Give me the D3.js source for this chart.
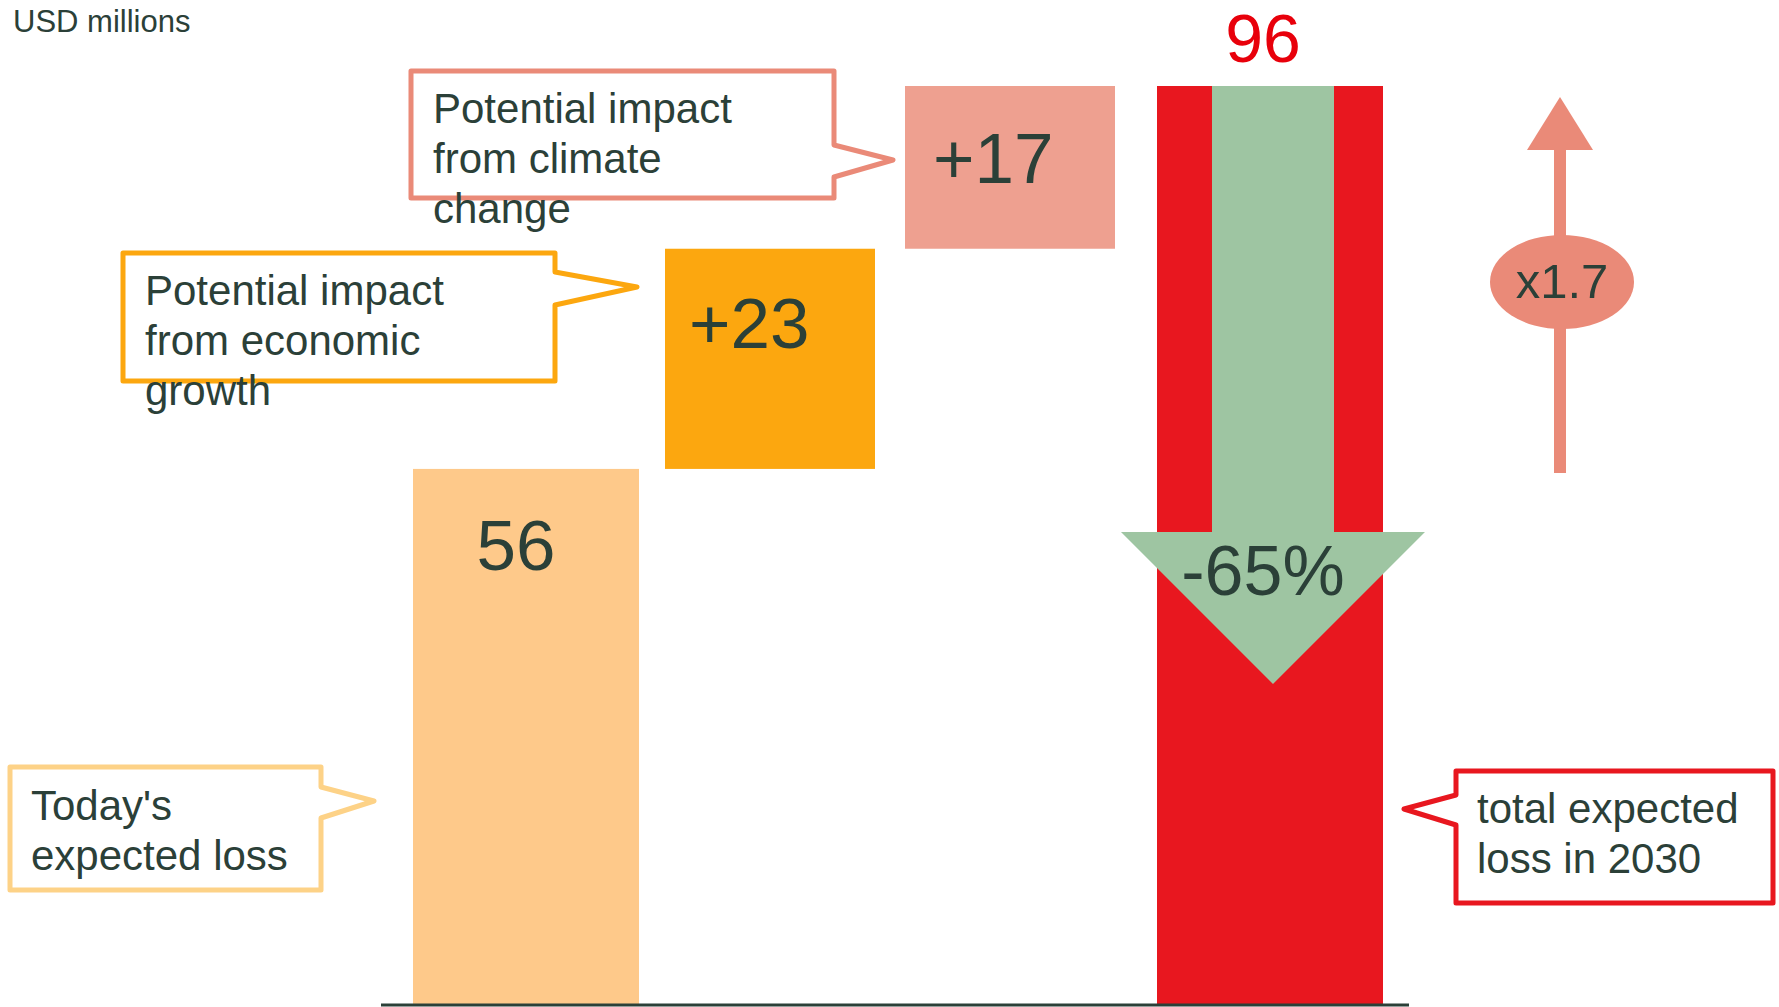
<!DOCTYPE html>
<html>
<head>
<meta charset="utf-8">
<script src="https://cdn.jsdelivr.net/npm/d3@7"></script>
<style>
  html, body { margin: 0; padding: 0; background: #fff; }
  svg { display: block; font-family: "Liberation Sans", Arial, sans-serif; }
</style>
</head>
<body>
<div id="chart"></div>
<script>
// chart values
const steps = ["today", "growth", "climate", "total2030"];
const stepValues = [56, 23, 17, 96];
const stepLabels = ["56", "+23", "+17", "96"];
const reductionLabel = "-65%";
const multiplierLabel = "x1.7";
const unitLabel = "USD millions";

const calloutTexts = [
    ["Today's", "expected loss"],
    ["Potential impact", "from economic", "growth"],
    ["Potential impact", "from climate", "change"],
    ["total expected", "loss in 2030"]
];

const W = 1779, H = 1007;
const ink = "#2b4038";
const barColors = ["#fec98a", "#fca70f", "#eea090", "#e8171f"];
const calloutColors = ["#fdd287", "#fca70f", "#ea8a78", "#e8171f"];
const green = "#9ec5a2";
const salmon = "#ea8a78";

const svg = d3.select("#chart")
    .append("svg")
    .attr("width", W)
    .attr("height", H);

const x = d3.scaleBand()
    .domain(steps)
    .range([413, 1383])
    .paddingInner(0.0887)
    .paddingOuter(0);

// the two middle (floating) bars are a little narrower and not evenly spaced
const barInset = [0, 8, 8, 0];
const barShift = [0, 0, -8, 0];

const y = d3.scaleLinear()
    .domain([0, 96])
    .range([1005, 86]);

// waterfall bases
let running = 0;
const bars = steps.map((s, i) => {
    let lo, hi;
    if (i === steps.length - 1) { lo = 0; hi = stepValues[i]; }
    else { lo = running; hi = running + stepValues[i]; running = hi; }
    return { key: s, lo, hi, label: stepLabels[i], color: barColors[i], inset: barInset[i], shift: barShift[i] };
});

svg.append("text")
    .attr("x", 13).attr("y", 32)
    .attr("font-size", 31)
    .attr("fill", ink)
    .text(unitLabel);

// bars
svg.append("g")
    .selectAll("rect")
    .data(bars)
    .join("rect")
    .attr("x", d => x(d.key) + d.inset / 2 + d.shift)
    .attr("y", d => y(d.hi))
    .attr("width", d => x.bandwidth() - 2 * d.inset)
    .attr("height", d => y(d.lo) - y(d.hi))
    .attr("fill", d => d.color);

// green reduction arrow inside the total bar
const tx = x("total2030") + x.bandwidth() / 2 + 3;
const shaftHalf = 61, headHalf = 152;
const headTop = 532, headTip = 684;
svg.append("path")
    .attr("d", `M${tx - shaftHalf},${y(96)} L${tx + shaftHalf},${y(96)} L${tx + shaftHalf},${headTop}
        L${tx + headHalf},${headTop} L${tx},${headTip} L${tx - headHalf},${headTop}
        L${tx - shaftHalf},${headTop} Z`)
    .attr("fill", green);

svg.append("text")
    .attr("x", tx - 10).attr("y", 595)
    .attr("text-anchor", "middle")
    .attr("font-size", 70)
    .attr("fill", ink)
    .text(reductionLabel);

// value labels
const labelOffsets = [[103, 570], [28, 348], [24, 183], [106, 62]];
svg.append("g")
    .selectAll("text")
    .data(bars)
    .join("text")
    .attr("x", (d, i) => x(d.key) + labelOffsets[i][0])
    .attr("y", (d, i) => labelOffsets[i][1])
    .attr("text-anchor", (d, i) => (i === 0 || i === 3) ? "middle" : "start")
    .attr("font-size", (d, i) => i === 3 ? 68 : 71)
    .attr("fill", (d, i) => i === 3 ? "#e8000b" : ink)
    .text(d => d.label);

// baseline
svg.append("line")
    .attr("x1", 381).attr("x2", 1409)
    .attr("y1", 1005).attr("y2", 1005)
    .attr("stroke", ink)
    .attr("stroke-width", 3);

// multiplier arrow
const ax = 1560;
svg.append("rect")
    .attr("x", ax - 6).attr("y", 145)
    .attr("width", 12).attr("height", 328)
    .attr("fill", salmon);
svg.append("path")
    .attr("d", `M${ax},97 L${ax + 33},150 L${ax - 33},150 Z`)
    .attr("fill", salmon);
svg.append("ellipse")
    .attr("cx", ax + 2).attr("cy", 282)
    .attr("rx", 72).attr("ry", 47)
    .attr("fill", salmon);
svg.append("text")
    .attr("x", ax + 2).attr("y", 298)
    .attr("text-anchor", "middle")
    .attr("font-size", 49)
    .attr("fill", ink)
    .text(multiplierLabel);

// callouts: box, pointer side, pointer y range and tip, text origin
const callouts = [
    { box: [10, 767, 321, 890], side: "right", p: [787, 818], tip: [374, 801], text: [31, 820] },
    { box: [123, 253, 555, 381], side: "right", p: [272, 305], tip: [637, 287], text: [145, 305] },
    { box: [411, 71, 834, 198], side: "right", p: [145, 177], tip: [893, 160], text: [433, 123] },
    { box: [1456, 771, 1773, 903], side: "left", p: [795, 825], tip: [1404, 809], text: [1477, 823] }
];

function calloutPath(c) {
    const [l, t, r, b] = c.box;
    const p = d3.path();
    p.moveTo(l, t);
    p.lineTo(r, t);
    if (c.side === "right") {
        p.lineTo(r, c.p[0]);
        p.lineTo(c.tip[0], c.tip[1]);
        p.lineTo(r, c.p[1]);
        p.lineTo(r, b);
        p.lineTo(l, b);
    } else {
        p.lineTo(r, b);
        p.lineTo(l, b);
        p.lineTo(l, c.p[1]);
        p.lineTo(c.tip[0], c.tip[1]);
        p.lineTo(l, c.p[0]);
    }
    p.closePath();
    return p.toString();
}

const cg = svg.append("g")
    .selectAll("g")
    .data(callouts)
    .join("g");

cg.append("path")
    .attr("d", calloutPath)
    .attr("fill", "#fff")
    .attr("stroke", (d, i) => calloutColors[i])
    .attr("stroke-width", 5)
    .attr("stroke-linejoin", "round");

cg.append("text")
    .attr("font-size", 42)
    .attr("fill", ink)
    .selectAll("tspan")
    .data((d, i) => calloutTexts[i].map((t, j) => ({ t, j, x: d.text[0], y: d.text[1] })))
    .join("tspan")
    .attr("x", d => d.x)
    .attr("y", d => d.y + d.j * 50)
    .text(d => d.t);
</script>
</body>
</html>
